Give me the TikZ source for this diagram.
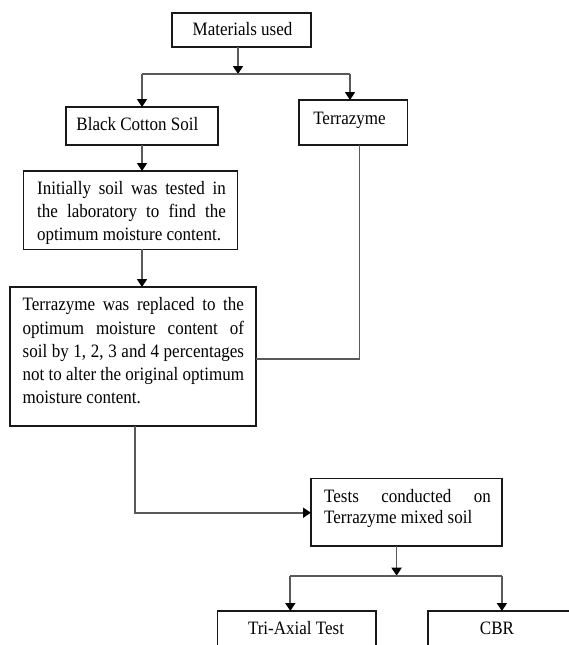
\documentclass[tikz,border=0pt]{standalone}
\usepackage{fontspec}
\setmainfont[FakeStretch=0.9]{Liberation Serif}
\usetikzlibrary{arrows.meta}
\newcommand{\jline}[2]{\makebox[#1][s]{#2}}
\begin{document}
\begin{tikzpicture}[x=1pt,y=-1pt]
\tikzset{
  box/.style={draw=black!90, line width=1.5pt, inner sep=0pt, outer sep=0pt, anchor=north west},
  conn/.style={draw=black!65, line width=1.7pt},
  arr/.style={conn, -{Triangle[width=10pt,length=8pt,color=black]}},
  txt/.style={inner sep=0pt, font=\fontsize{18.9}{23.2}\selectfont},
  para/.style={txt, anchor=north west, align=left},
}
\useasboundingbox (0,0) rectangle (569,645);
\fill[white] (0,0) rectangle (569,645);
\clip (0,0) rectangle (569,645);

% boxes
\node[box, minimum width=139pt, minimum height=34pt] (mat) at (172,13) {};
\node[box, minimum width=152pt, minimum height=38pt] (bcs) at (66,107) {};
\node[box, minimum width=108.5pt, minimum height=45pt] (tz) at (299,100) {};
\node[box, minimum width=214.2pt, minimum height=78.3pt] (init) at (23.5,171) {};
\node[box, minimum width=246.4pt, minimum height=139pt] (rep) at (9.8,287) {};
\node[box, minimum width=190.8pt, minimum height=67.3pt] (tests) at (311,478.7) {};
\node[box, minimum width=158.3pt, minimum height=60pt] (tri) at (217.7,611) {};
\node[box, minimum width=160pt, minimum height=60pt] (cbr) at (428.2,611) {};

% texts
\node[txt, anchor=base] (matT) at (242.5,35.7) {Materials used};
\node[txt, anchor=base] (bcsT) at (137.4,130) {Black Cotton Soil};
\node[txt, anchor=base] (tzT) at (349.5,124) {Terrazyme};
\node[para] (initT) at (37,180.3) {\rule{0pt}{14pt}\jline{188.7pt}{Initially soil was tested in}\\
  \jline{188.7pt}{the laboratory to find the}\\
  optimum moisture content.};
\node[para] (repT) at (22.5,296.7) {\rule{0pt}{14pt}\jline{221.3pt}{Terrazyme was replaced to the}\\
  \jline{221.3pt}{optimum moisture content of}\\
  \jline{221.3pt}{soil by 1, 2, 3 and 4 percentages}\\
  \jline{221.3pt}{not to alter the original optimum}\\
  moisture content.};
\node[txt, anchor=north west, align=left, font=\fontsize{18.9}{20.7}\selectfont] (testsT) at (324,488.3) {\rule{0pt}{14pt}\jline{166.6pt}{Tests conducted on}\\
  Terrazyme mixed soil};
\node[txt, anchor=base] (triT) at (296,634.7) {Tri-Axial Test};
\node[txt, anchor=base] (cbrT) at (497,634.7) {CBR};

% connectors
\coordinate (j1) at (238,74);
\coordinate (jl) at (142,74);
\coordinate (jr) at (350,74);
\draw[arr] (j1 |- mat.south) -- (j1);
\draw[conn] (jl) -- (jr);
\draw[arr] (jl) -- (jl |- bcs.north);
\draw[arr] (jr) -- (jr |- tz.north);
\draw[arr] (jl |- bcs.south) -- (jl |- init.north);
\draw[arr] (jl |- init.south) -- (jl |- rep.north);
\coordinate (tzc) at (359.6,358.7);
\draw[conn] (tzc |- tz.south) -- (tzc) -- (tzc -| rep.east);
\coordinate (rc) at (135,512.7);
\draw[arr] (rc |- rep.south) -- (rc) -- (rc -| tests.west);
\coordinate (j2) at (396.6,575.7);
\coordinate (j2l) at (290.3,575.7);
\coordinate (j2r) at (501.9,575.7);
\draw[arr] (j2 |- tests.south) -- (j2);
\draw[conn] (j2l) -- (j2r);
\draw[arr] (j2l) -- (j2l |- tri.north);
\draw[arr] (j2r) -- (j2r |- cbr.north);
\end{tikzpicture}
\end{document}
